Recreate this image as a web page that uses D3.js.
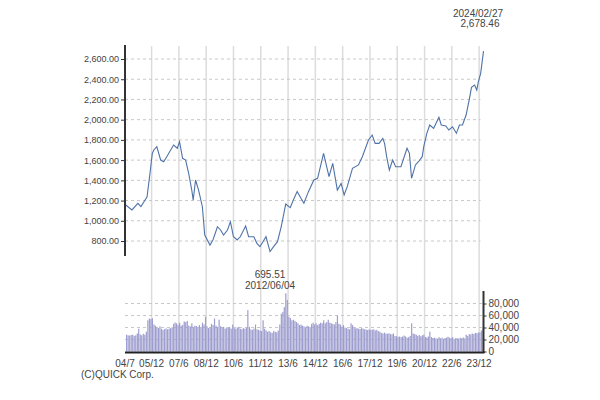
<!DOCTYPE html>
<html>
<head>
  <meta charset="utf-8">
  <title>TOPIX</title>
  <script src="https://d3js.org/d3.v7.min.js"></script>
  <style>
    body { margin: 0; background: #fff; }
    text { font-family: "Liberation Sans", Arial, sans-serif; fill: #444; }
    .grid line { stroke: #dcdcdc; }
    .hgrid line { stroke: #c8c8c8; stroke-dasharray: 3,3; }
    .axis path, .axis line { stroke: #333; }
  </style>
</head>
<body>
<script>

// price series
var priceDates = [
  "2004-07-01","2004-11-01","2005-03-01","2005-05-01","2005-07-01","2005-09-01","2005-11-01",
  "2005-12-15","2006-01-15","2006-03-15","2006-06-01","2006-08-01","2006-10-01","2007-02-15",
  "2007-05-01","2007-06-15","2007-08-15","2007-10-15","2007-12-15","2008-02-15","2008-03-15",
  "2008-05-01","2008-07-01","2008-09-15","2008-11-01","2009-02-15","2009-04-15","2009-07-15",
  "2009-09-15","2009-11-15","2010-02-01","2010-04-01","2010-06-01","2010-08-15","2010-10-15",
  "2011-02-01","2011-04-01","2011-07-15","2011-09-15","2011-11-15","2012-03-15","2012-06-04",
  "2012-08-15","2012-11-01","2013-01-15","2013-04-15","2013-07-15","2013-09-15","2013-12-01",
  "2014-02-15","2014-04-15","2014-07-15","2014-11-01","2015-01-15","2015-05-15","2015-09-01",
  "2015-11-15","2016-02-15","2016-05-01","2016-07-01","2016-09-01","2016-12-15","2017-04-15",
  "2017-07-01","2017-11-01","2018-01-15","2018-03-15","2018-06-01","2018-08-15","2018-09-20",
  "2018-11-01","2018-12-25","2019-03-01","2019-05-01","2019-08-15","2019-12-15","2020-02-01",
  "2020-03-15","2020-06-01","2020-08-01","2020-10-15","2020-11-15","2021-01-15","2021-03-15",
  "2021-06-01","2021-09-15","2021-11-01","2022-02-01","2022-04-01","2022-06-15","2022-09-01",
  "2022-11-01","2023-01-01","2023-03-15","2023-05-15","2023-07-01","2023-09-01","2023-10-15",
  "2023-11-15","2024-01-01","2024-02-27"
];
var priceValues = [
  1156, 1107, 1173, 1140, 1189, 1238, 1480,
  1667, 1700, 1733, 1601, 1584, 1634, 1749,
  1717, 1782, 1618, 1601, 1470, 1304, 1205,
  1403, 1304, 1139, 859, 760, 810, 941,
  909, 859, 909, 991, 842, 810, 842,
  948, 842, 842, 777, 744, 842, 695.51,
  744, 793, 941, 1165, 1130, 1205, 1290,
  1222, 1173, 1288, 1403, 1420, 1667, 1436,
  1568, 1304, 1370, 1255, 1337, 1519, 1552,
  1634, 1799, 1848, 1766, 1766, 1815, 1766,
  1634, 1502, 1601, 1535, 1535, 1717, 1667,
  1420, 1552, 1584, 1634, 1733, 1865, 1947,
  1914, 2023, 1947, 1937, 1898, 1930, 1865,
  1947, 1947, 2046, 2194, 2320, 2343, 2293,
  2375, 2458, 2678.46
];

// monthly volume, 2004/07 .. 2024/02
var volumeStart = "2004-07-01";
var volumeValues = [
  28000, 27000, 26500, 27500, 28000, 26000,
  27000, 30000, 38000, 28500, 27000, 29500, 28000, 33000, 52000, 55000, 54000, 55500,
  45000, 43000, 40000, 39000, 42000, 38000, 36000, 37000, 38500, 37000, 38000, 39000,
  40500, 46000, 48500, 47000, 44000, 48000, 43000, 44500, 50000, 49000, 51000, 43000,
  42000, 47000, 41000, 43000, 42500, 40000, 44000, 41000, 48000, 45000, 58000, 42000,
  39000, 40000, 46000, 44000, 55000, 43000, 41000, 53000, 42000, 40000, 41000, 38000,
  40000, 39500, 40500, 38000, 45000, 39000, 38000, 40000, 41000, 38000, 37000, 39000,
  38000, 40000, 69000, 41000, 37000, 36000, 38000, 45000, 37000, 36000, 35000, 34000,
  52000, 38000, 35000, 33000, 34000, 32000, 31000, 34000, 33000, 32000, 35000, 45000,
  63000, 66000, 74000, 97000, 86000, 58000, 56000, 52000, 53000, 51000, 49000, 47000,
  44000, 45000, 43000, 42000, 40000, 43000, 42000, 41000, 46000, 48000, 45000, 47000,
  44000, 46000, 48000, 47000, 52000, 47000, 49000, 53000, 48000, 47000, 46000, 45000,
  49000, 60000, 46000, 45000, 41000, 44000, 40000, 39000, 38000, 37000, 47000, 44000,
  40000, 38500, 39000, 38000, 37500, 39000, 38000, 37000, 36500, 36000, 37000, 36000,
  36500, 37000, 35000, 36000, 34000, 33000, 31000, 30000, 31500, 30000, 29500, 30500,
  29000, 28500, 30000, 26000, 25500, 24500, 25000, 24000, 25000, 26500, 25000, 23000,
  24000, 26000, 47000, 30000, 29000, 28000, 26000, 27500, 25500, 27000, 28000, 24000,
  23500, 25000, 33000, 24000, 22500, 23000, 22000, 21500, 24000, 22000, 23000, 21000,
  22500, 23000, 24500, 23000, 22000, 24000, 21000, 22000, 22500, 21500, 23000, 22000,
  23500, 22000, 28000, 26000, 29000, 28500, 30000, 29000, 31000, 30500, 31500, 32000,
  35000, 38000
];

var priceTicks = [800, 1000, 1200, 1400, 1600, 1800, 2000, 2200, 2400, 2600];
var volumeTicks = [0, 20000, 40000, 60000, 80000];
var xTickDates = ["2004-06-15","2005-12-01","2007-06-01","2008-12-01","2010-06-01","2011-12-01",
  "2013-06-01","2014-12-01","2016-06-01","2017-12-01","2019-06-01","2020-12-01",
  "2022-06-01","2023-12-01"];
var xTickLabels = ["04/7","05/12","07/6","08/12","10/6","11/12","13/6","14/12",
  "16/6","17/12","19/6","20/12","22/6","23/12"];

var w = 600, h = 400;
var left = 125, right = 483.5;
var parse = d3.timeParse("%Y-%m-%d");

var svg = d3.select("body").append("svg")
  .attr("width", w).attr("height", h);

var x = d3.scaleTime()
  .domain([parse("2004-06-15"), parse("2024-02-27")])
  .range([left, right]);

var y = d3.scaleLinear().domain([800, 2600]).range([241, 59]);
var yv = d3.scaleLinear().domain([0, 80000]).range([351.5, 303.5]);

// vertical grid lines, through both panels
svg.append("g").attr("class", "grid")
  .selectAll("line")
  .data(xTickDates.slice(1))
  .enter().append("line")
  .attr("x1", function(d){ return x(parse(d)); })
  .attr("x2", function(d){ return x(parse(d)); })
  .attr("y1", 46).attr("y2", 352)
  .attr("stroke-width", 1.5);

// horizontal dashed grid, price
svg.append("g").attr("class", "hgrid")
  .selectAll("line")
  .data(priceTicks)
  .enter().append("line")
  .attr("x1", left).attr("x2", right - 3)
  .attr("y1", function(d){ return y(d); })
  .attr("y2", function(d){ return y(d); });

// horizontal dashed grid, volume
svg.append("g").attr("class", "hgrid")
  .selectAll("line")
  .data(volumeTicks.slice(1))
  .enter().append("line")
  .attr("x1", left).attr("x2", right)
  .attr("y1", function(d){ return yv(d); })
  .attr("y2", function(d){ return yv(d); });

// volume bars
var v0 = parse(volumeStart);
var vols = volumeValues.map(function(v, i){
  return { date: d3.timeMonth.offset(v0, i), value: v };
});
svg.append("g")
  .selectAll("rect")
  .data(vols)
  .enter().append("rect")
  .attr("x", function(d){ return x(d.date) + 0.2; })
  .attr("width", 1.2)
  .attr("y", function(d){ return yv(d.value); })
  .attr("height", function(d){ return yv(0) - yv(d.value); })
  .attr("fill", "#9d9dcf");

// price line
var prices = priceDates.map(function(d, i){
  return { date: parse(d), value: priceValues[i] };
});
svg.append("path")
  .datum(prices)
  .attr("fill", "none")
  .attr("stroke", "#4f72a8")
  .attr("stroke-width", 1.1)
  .attr("d", d3.line()
    .x(function(d){ return x(d.date); })
    .y(function(d){ return y(d.value); }));

// left price axis
var yAxis = d3.axisLeft(y)
  .tickValues(priceTicks)
  .tickSize(4)
  .tickPadding(2)
  .tickFormat(d3.format(",.2f"));
var ga = svg.append("g")
  .attr("class", "axis")
  .attr("transform", "translate(" + left + ",0)")
  .call(yAxis);
ga.select(".domain").remove();
ga.selectAll("text").attr("font-size", "9px").attr("font-family", null);
svg.append("line")
  .attr("x1", left).attr("x2", left)
  .attr("y1", 45).attr("y2", 256)
  .attr("stroke", "#333").attr("stroke-width", 2);

// right volume axis
var vAxis = d3.axisRight(yv)
  .tickValues(volumeTicks)
  .tickSize(3)
  .tickPadding(2)
  .tickFormat(d3.format(","));
var gv = svg.append("g")
  .attr("class", "axis")
  .attr("transform", "translate(" + right + ",0)")
  .call(vAxis);
gv.select(".domain").remove();
gv.selectAll("text").attr("font-size", "10px").attr("font-family", null);
svg.append("line")
  .attr("x1", right).attr("x2", right)
  .attr("y1", 291).attr("y2", 353)
  .attr("stroke", "#333").attr("stroke-width", 2);

// bottom line
svg.append("line")
  .attr("x1", left).attr("x2", right + 1)
  .attr("y1", 352.5).attr("y2", 352.5)
  .attr("stroke", "#222").attr("stroke-width", 2);

// x labels
svg.append("g")
  .selectAll("text")
  .data(xTickDates)
  .enter().append("text")
  .attr("x", function(d){ return x(parse(d)); })
  .attr("y", 366.5)
  .attr("text-anchor", "middle")
  .attr("font-size", "10px")
  .text(function(d, i){ return xTickLabels[i]; });

// annotations
var low = prices[41];
svg.append("text")
  .attr("x", x(low.date)).attr("y", 278)
  .attr("text-anchor", "middle").attr("font-size", "10px").attr("fill", "#555")
  .text(d3.format(".2f")(low.value));
svg.append("text")
  .attr("x", x(low.date)).attr("y", 289)
  .attr("text-anchor", "middle").attr("font-size", "10px").attr("fill", "#555")
  .text("2012/06/04");

var last = prices[prices.length - 1];
svg.append("text")
  .attr("x", 478).attr("y", 17)
  .attr("text-anchor", "middle").attr("font-size", "10px").attr("fill", "#555")
  .text("2024/02/27");
svg.append("text")
  .attr("x", 480).attr("y", 27)
  .attr("text-anchor", "middle").attr("font-size", "10px").attr("fill", "#555")
  .text(d3.format(",.2f")(last.value));

svg.append("text")
  .attr("x", 81).attr("y", 378)
  .attr("font-size", "10px").attr("fill", "#333")
  .text("(C)QUICK Corp.");

</script>
</body>
</html>
